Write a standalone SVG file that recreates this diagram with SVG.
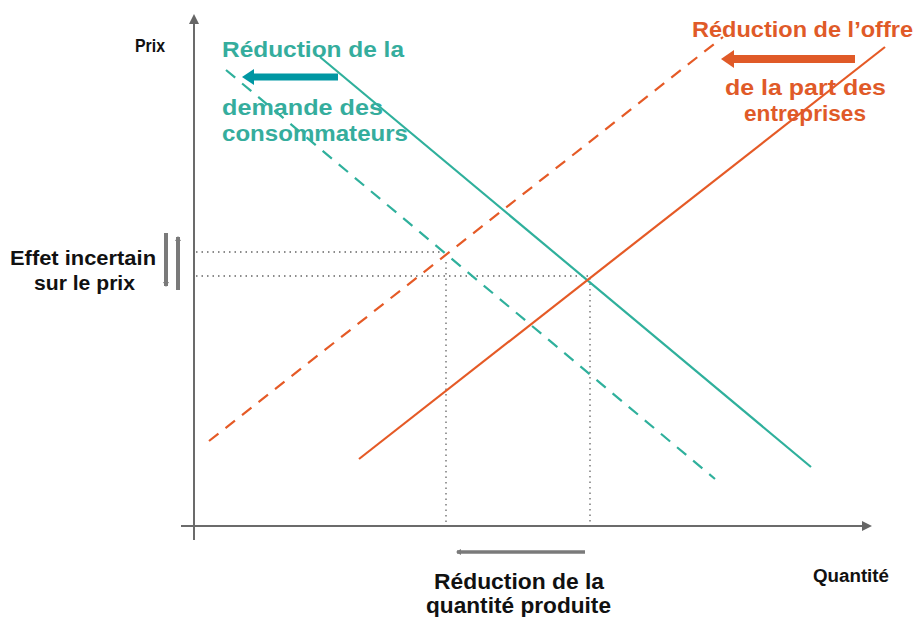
<svg xmlns="http://www.w3.org/2000/svg" width="919" height="617" viewBox="0 0 919 617">
<style>
.t{font-family:"Liberation Sans",Arial,sans-serif;font-weight:bold}
.blk{fill:#111}
.teal{fill:#35ad9d}
.org{fill:#e05a28}
.axis{stroke:#6b6b6b;stroke-width:2;fill:none}
.dot{stroke:#666;stroke-width:1.3;stroke-dasharray:1.5 4;fill:none}
.gl{stroke:#2fb09c;stroke-width:2.2;fill:none}
.ol{stroke:#e55a26;stroke-width:2.2;fill:none}
.dash{stroke-dasharray:12 9}
.garr{stroke:#7a7a7a;stroke-width:4;fill:none}
</style>
<defs>
<marker id="ah" markerWidth="10" markerHeight="10" refX="8" refY="5" orient="auto" markerUnits="userSpaceOnUse"><path d="M0,0 L10,5 L0,10 z" fill="#666"/></marker>
<marker id="gh" markerWidth="6" markerHeight="6" refX="4" refY="3" orient="auto" markerUnits="userSpaceOnUse"><path d="M0,0 L5,3 L0,6 z" fill="#7a7a7a"/></marker>
</defs>
<g id="connectors">
<line class="axis" x1="194" y1="540" x2="194" y2="16" marker-end="url(#ah)"/>
<line class="axis" x1="181" y1="526" x2="870" y2="526" marker-end="url(#ah)"/>
<line class="dot" x1="196" y1="252" x2="443" y2="252"/>
<line class="dot" x1="196" y1="276" x2="589" y2="276"/>
<line class="dot" x1="446" y1="262" x2="446" y2="525"/>
<line class="dot" x1="590" y1="278" x2="590" y2="525"/>
<line class="gl" x1="320" y1="57" x2="811" y2="467"/>
<line class="gl dash" x1="226" y1="70" x2="715" y2="479"/>
<line class="ol" x1="359" y1="459" x2="885" y2="47"/>
<line class="ol dash" x1="209" y1="441" x2="723" y2="37"/>
<line x1="338" y1="77" x2="252" y2="77" stroke="#0097a3" stroke-width="7"/>
<path d="M242,77 L254,69 L254,85 z" fill="#0097a3"/>
<line x1="855" y1="59" x2="732" y2="59" stroke="#e05a28" stroke-width="8"/>
<path d="M721,59 L734,50 L734,68 z" fill="#e05a28"/>
<line class="garr" x1="166" y1="233" x2="166" y2="286" marker-end="url(#gh)"/>
<line class="garr" x1="178" y1="290" x2="178" y2="237" marker-end="url(#gh)"/>
<line x1="585" y1="552" x2="457" y2="552" stroke="#7a7a7a" stroke-width="3.5" marker-end="url(#gh)"/>
</g>
<g id="label-prix"><text class="t blk" x="135" y="52" font-size="18" textLength="30" lengthAdjust="spacingAndGlyphs">Prix</text></g>
<g id="label-quantite"><text class="t blk" x="813" y="582" font-size="18" textLength="76" lengthAdjust="spacingAndGlyphs">Quantité</text></g>
<g id="label-demande" class="t teal" font-size="22">
<text x="222" y="57" textLength="182" lengthAdjust="spacingAndGlyphs">Réduction de la</text>
<text x="222" y="115" textLength="161" lengthAdjust="spacingAndGlyphs">demande des</text>
<text x="222" y="141" textLength="186" lengthAdjust="spacingAndGlyphs">consommateurs</text>
</g>
<g id="label-offre" class="t org" font-size="22">
<text x="692" y="37" textLength="221" lengthAdjust="spacingAndGlyphs">Réduction de l’offre</text>
<text x="725" y="95" textLength="161" lengthAdjust="spacingAndGlyphs">de la part des</text>
<text x="744" y="121" textLength="122" lengthAdjust="spacingAndGlyphs">entreprises</text>
</g>
<g id="label-prix-effet" class="t blk" font-size="20">
<text x="10" y="265" textLength="146" lengthAdjust="spacingAndGlyphs">Effet incertain</text>
<text x="34" y="290" textLength="101" lengthAdjust="spacingAndGlyphs">sur le prix</text>
</g>
<g id="label-quantite-effet" class="t blk" font-size="22">
<text x="434" y="589" textLength="170" lengthAdjust="spacingAndGlyphs">Réduction de la</text>
<text x="426" y="613" textLength="185" lengthAdjust="spacingAndGlyphs">quantité produite</text>
</g>
</svg>
